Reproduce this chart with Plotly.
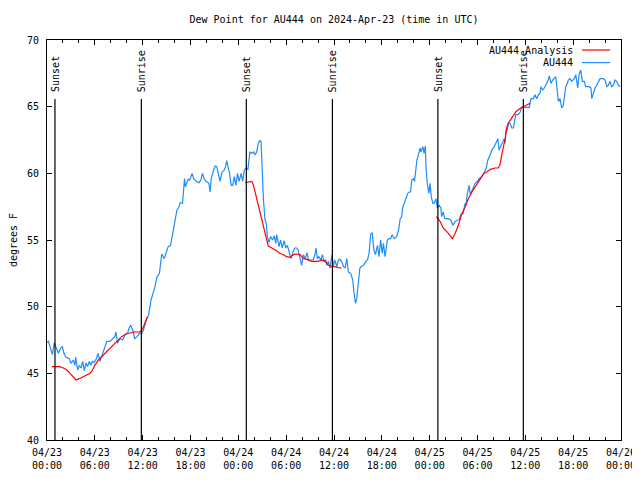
import pandas as pd
import plotly.graph_objects as go

START = pd.Timestamp("2024-04-23 00:00")

# Observed dew point (AU444): hours since start, degrees F
obs_hours = [0.0, 0.17, 0.38, 0.67, 0.92, 1.13, 1.42, 1.72, 1.92, 2.13, 2.38, 2.8, 3.0, 3.3, 3.5, 3.6, 3.85, 4.05, 4.27, 4.48,
             4.68, 4.9, 5.1, 5.3, 5.5, 5.7, 5.9, 6.2, 6.4, 6.65, 6.85, 7.15, 7.5, 7.9, 8.25, 8.5, 8.65, 8.85, 9.15, 9.5,
             9.8, 10.1, 10.3, 10.5, 10.75, 11.0, 11.3, 11.6, 11.9, 12.1, 12.4, 12.75, 13.05, 13.25, 13.55, 13.8, 14.1, 14.3, 14.4, 14.7,
             15.0, 15.2, 15.5, 15.7, 15.85, 16.1, 16.3, 16.5, 16.7, 17.0, 17.1, 17.25, 17.35, 17.5, 17.7, 17.9, 18.2, 18.4, 18.7, 19.1,
             19.3, 19.5, 19.7, 19.95, 20.3, 20.45, 20.6, 20.9, 21.1, 21.3, 21.5, 21.7, 21.95, 22.25, 22.4, 22.55, 22.7, 22.9, 23.1, 23.3,
             23.5, 23.7, 23.9, 24.1, 24.35, 24.55, 24.75, 24.95, 25.2, 25.3, 25.45, 25.7, 25.9, 26.1, 26.3, 26.5, 26.7, 26.85, 27.0, 27.15,
             27.35, 27.5, 27.65, 27.85, 28.05, 28.3, 28.5, 28.7, 28.8, 29.1, 29.3, 29.5, 29.75, 29.95, 30.15, 30.35, 30.6, 30.8, 31.05, 31.3,
             31.5, 31.75, 31.95, 32.15, 32.4, 32.6, 32.8, 33.2, 33.4, 33.6, 33.75, 33.9, 34.1, 34.35, 34.55, 34.75, 34.95, 35.1, 35.3, 35.5,
             35.63, 35.75, 35.9, 36.1, 36.35, 36.55, 36.75, 36.95, 37.2, 37.4, 37.6, 37.8, 38.1, 38.35, 38.5, 38.7, 38.85, 39.05, 39.25, 39.5,
             39.7, 40.0, 40.2, 40.4, 40.6, 40.8, 41.0, 41.2, 41.45, 41.65, 41.85, 42.05, 42.2, 42.4, 42.7, 42.9, 43.1, 43.3, 43.55, 43.85,
             44.1, 44.3, 44.5, 44.6, 44.8, 45.05, 45.25, 45.45, 45.6, 45.75, 45.95, 46.1, 46.25, 46.4, 46.6, 46.8, 46.9, 47.15, 47.3, 47.45,
             47.55, 47.7, 47.9, 48.05, 48.2, 48.4, 48.55, 48.8, 48.95, 49.2, 49.4, 49.5, 49.7, 49.9, 50.35, 50.65, 50.9, 51.2, 51.5, 51.7,
             51.9, 52.2, 52.45, 52.55, 52.7, 52.95, 53.1, 53.4, 53.7, 54.0, 54.2, 54.5, 54.8, 55.1, 55.3, 55.6, 55.8, 56.1, 56.35, 56.55,
             56.7, 56.9, 57.15, 57.35, 57.45, 57.6, 57.75, 57.9, 58.1, 58.3, 58.5, 58.7, 58.8, 59.1, 59.35, 59.55, 60.5, 60.71, 61.0, 61.21,
             61.43, 61.63, 61.84, 61.97, 62.18, 62.38, 62.59, 62.81, 63.01, 63.22, 63.43, 63.64, 63.81, 63.97, 64.14, 64.35, 64.56, 64.76, 64.89, 65.07,
             65.27, 65.39, 65.6, 65.82, 66.14, 66.32, 66.57, 66.73, 66.95, 67.15, 67.4, 67.57, 67.99, 68.24, 68.33, 68.53, 68.74, 68.95, 69.37, 69.78,
             69.99, 70.21, 70.41, 70.62, 70.83, 71.03, 71.25, 71.46, 71.66, 71.88]
obs_values = [47.3, 47.4, 47.0, 46.4, 47.3, 46.9, 46.5, 46.9, 47.0, 46.5, 46.2, 46.1, 45.75, 46.0, 45.6, 46.2, 45.25, 45.6, 45.4, 45.9,
              45.2, 45.8, 45.5, 45.9, 45.6, 45.9, 45.8, 46.1, 46.5, 45.9, 46.25, 46.75, 47.4, 47.4, 47.6, 47.75, 48.1, 47.25, 47.6, 47.5,
              47.9, 48.0, 48.4, 48.6, 48.25, 47.6, 47.75, 48.0, 48.0, 48.25, 48.9, 49.4, 50.5, 50.9, 51.5, 52.25, 52.5, 53.5, 53.95, 53.6,
              54.1, 54.5, 54.6, 55.25, 56.0, 56.75, 57.25, 57.4, 57.8, 57.75, 58.4, 59.6, 59.0, 59.25, 59.55, 59.5, 60.0, 59.6, 59.4, 59.3,
              59.5, 60.0, 59.6, 59.4, 59.25, 58.6, 59.6, 60.25, 60.55, 60.5, 60.0, 59.4, 60.1, 60.25, 60.5, 60.95, 60.5, 60.0, 59.1, 59.1,
              59.75, 59.1, 60.0, 59.4, 60.0, 59.4, 60.25, 60.4, 60.3, 61.0, 61.6, 61.5, 61.6, 61.4, 61.6, 62.25, 62.45, 62.4, 59.5, 58.0,
              56.5, 56.25, 55.25, 54.8, 55.25, 55.0, 55.3, 54.75, 55.4, 54.5, 55.0, 54.4, 54.95, 54.4, 54.6, 54.1, 53.6, 54.0, 54.4, 54.4,
              54.25, 53.6, 53.1, 53.9, 53.6, 54.05, 53.5, 53.5, 53.5, 53.9, 54.4, 53.6, 53.75, 53.5, 53.9, 53.4, 53.5, 53.1, 53.4, 52.9,
              53.4, 53.9, 53.0, 53.5, 53.0, 53.5, 53.55, 53.4, 53.0, 52.9, 53.6, 52.6, 52.5, 52.0, 51.1, 50.25, 50.6, 52.0, 52.9, 53.05,
              53.1, 53.4, 53.5, 54.0, 55.45, 55.55, 54.25, 53.9, 54.6, 53.75, 55.0, 54.0, 54.75, 53.75, 55.0, 55.1, 55.1, 55.4, 55.1, 55.25,
              55.75, 56.6, 56.75, 57.4, 57.75, 58.25, 58.5, 58.6, 58.6, 59.5, 59.6, 59.4, 60.4, 61.0, 61.4, 61.9, 61.6, 62.0, 61.5, 62.05,
              60.4, 59.25, 58.5, 59.25, 58.25, 57.75, 57.75, 58.1, 57.4, 57.6, 57.4, 56.75, 57.1, 56.6, 56.6, 56.5, 56.1, 56.4, 56.5, 56.5,
              56.9, 57.0, 57.75, 57.6, 58.4, 59.1, 58.4, 58.9, 59.25, 59.4, 59.6, 59.75, 60.0, 60.4, 61.0, 61.4, 61.75, 62.0, 62.4, 62.6,
              61.75, 62.0, 62.4, 62.6, 62.25, 63.25, 63.25, 63.75, 63.75, 63.4, 63.4, 64.25, 64.4, 64.4, 64.6, 64.95, 64.95, 65.6, 65.6, 65.9,
              65.6, 65.9, 66.0, 66.5, 66.25, 66.4, 66.6, 66.9, 67.3, 66.75, 67.0, 67.1, 67.25, 66.4, 65.4, 65.6, 64.9, 65.1, 65.6, 66.5,
              66.75, 67.0, 67.1, 66.9, 67.1, 67.4, 66.4, 67.4, 67.75, 66.9, 66.9, 66.5, 66.5, 66.4, 65.6, 66.0, 66.4, 66.6, 67.1, 67.1,
              67.0, 66.5, 66.6, 66.9, 66.5, 66.6, 67.0, 66.9, 66.6, 66.5]

# Analysis dew point: three night-time segments
ana_hours_1 = [0.6, 1.6, 2.05, 2.5, 2.9, 3.3, 3.65, 4.05, 4.55, 4.95, 5.4, 5.7, 6.0, 6.45, 6.85, 7.3, 7.7, 8.1, 8.5, 8.95,
               9.35, 9.9, 10.4, 10.9, 11.65, 11.9, 12.1, 12.3, 12.6]
ana_values_1 = [45.5, 45.5, 45.4, 45.25, 45.0, 44.75, 44.5, 44.6, 44.75, 44.9, 45.0, 45.25, 45.6, 46.0, 46.25, 46.55, 46.75, 47.0, 47.25, 47.5,
                47.75, 47.95, 48.05, 48.1, 48.1, 48.25, 48.5, 48.75, 49.25]
ana_hours_2 = [24.85, 25.7, 25.9, 26.1, 26.3, 26.5, 26.7, 26.95, 27.15, 27.35, 27.55, 27.75, 28.2, 28.8, 29.2, 29.65, 30.05, 30.5, 30.9, 31.3,
               31.75, 32.15, 32.6, 33.2, 34.0, 34.45, 34.9, 35.3, 35.7, 36.1, 36.75, 36.95]
ana_values_2 = [59.3, 59.4, 59.1, 58.6, 58.0, 57.45, 57.0, 56.5, 56.0, 55.5, 54.9, 54.55, 54.4, 54.2, 54.0, 53.9, 53.75, 53.7, 53.9, 53.95,
                53.9, 53.6, 53.55, 53.4, 53.4, 53.5, 53.4, 53.1, 53.0, 53.0, 52.9, 52.9]
ana_hours_3 = [48.85, 49.3, 49.7, 50.35, 50.85, 51.2, 51.6, 52.0, 52.45, 52.85, 53.3, 53.7, 54.1, 54.55, 54.8, 55.15, 55.6, 56.2, 56.6, 56.8,
               57.05, 57.25, 57.45, 57.65, 57.85, 58.15, 58.5, 58.8, 59.2, 59.55, 59.95, 60.4, 60.6]
ana_values_3 = [56.75, 56.4, 55.9, 55.5, 55.1, 55.5, 56.1, 56.9, 57.5, 58.1, 58.6, 59.0, 59.4, 59.75, 60.0, 60.1, 60.3, 60.4, 60.4, 60.6,
                61.5, 62.0, 62.5, 63.4, 63.75, 64.05, 64.4, 64.6, 64.8, 64.95, 65.05, 65.2, 65.25]

event_times = ["2024-04-23 01:00", "2024-04-23 11:50", "2024-04-24 01:00",
               "2024-04-24 11:48", "2024-04-25 01:02", "2024-04-25 11:45"]
event_labels = ["Sunset", "Sunrise", "Sunset", "Sunrise", "Sunset", "Sunrise"]

TITLE = "Dew Point for AU444 on 2024-Apr-23 (time in UTC)"
FONT = "DejaVu Sans Mono"
BLUE = "#1e8cff"
RED = "#ff0000"


def to_time(hours):
    return [START + pd.Timedelta(hours=h) for h in hours]


ana_x, ana_y = [], []
for hrs, vals in [(ana_hours_1, ana_values_1), (ana_hours_2, ana_values_2), (ana_hours_3, ana_values_3)]:
    ana_x += to_time(hrs) + [None]
    ana_y += vals + [None]

fig = go.Figure()
fig.add_trace(go.Scatter(x=to_time(obs_hours), y=obs_values, mode="lines", name="AU444",
                         line=dict(color=BLUE, width=1.2)))
fig.add_trace(go.Scatter(x=ana_x, y=ana_y, mode="lines", name="AU444 Analysis",
                         line=dict(color=RED, width=1.2), connectgaps=False))

shapes = []
annotations = []
for t, lab in zip(event_times, event_labels):
    shapes.append(dict(type="line", xref="x", yref="y", x0=t, x1=t, y0=40, y1=65.58,
                       line=dict(color="black", width=1.2)))
    annotations.append(dict(x=t, y=65.95, xref="x", yref="y", text=lab, textangle=-90,
                            showarrow=False, xanchor="center", yanchor="bottom",
                            font=dict(family=FONT, size=10, color="black")))

# manual legend (text to the left of the line sample)
legend_items = [("AU444 Analysis", RED, 0.975), ("AU444", BLUE, 0.9435)]
for txt, col, yy in legend_items:
    annotations.append(dict(x=0.9199, y=yy, xref="paper", yref="paper", text=txt, showarrow=False,
                            xanchor="right", yanchor="middle",
                            font=dict(family=FONT, size=10, color="black")))
    shapes.append(dict(type="line", xref="paper", yref="paper", x0=0.932, x1=0.981, y0=yy, y1=yy,
                       line=dict(color=col, width=1.2)))

fig.update_layout(
    width=640, height=480,
    margin=dict(l=39, r=27, t=32, b=48, autoexpand=False),
    paper_bgcolor="white", plot_bgcolor="white",
    font=dict(family=FONT, size=10, color="black"),
    showlegend=False,
    title=dict(text=TITLE, x=0.5, xref="paper", xanchor="center", y=1 - 11 / 480, yref="container",
               yanchor="middle", font=dict(family=FONT, size=10, color="black")),
    shapes=shapes, annotations=annotations,
)
fig.update_xaxes(
    type="date", range=["2024-04-23 00:00", "2024-04-26 00:00"], automargin=False,
    tick0="2024-04-23 00:00", dtick=6 * 3600 * 1000, tickformat="%m/%d<br>%H:%M",
    ticks="inside", ticklen=5, tickcolor="black", ticklabelstandoff=3,
    showline=True, linecolor="black", linewidth=1, mirror="allticks",
    showgrid=False, zeroline=False,
    minor=dict(dtick=2 * 3600 * 1000, tick0="2024-04-23 00:00", ticks="inside", ticklen=3,
               tickcolor="black", showgrid=False),
)
fig.update_yaxes(
    range=[40, 70], dtick=5, tick0=40, automargin=False,
    ticks="inside", ticklen=5, tickcolor="black", ticklabelstandoff=5,
    showline=True, linecolor="black", linewidth=1, mirror="allticks",
    showgrid=False, zeroline=False,
    title=dict(text="degrees F", standoff=8, font=dict(family=FONT, size=10, color="black")),
)

fig.write_html("out.html")
